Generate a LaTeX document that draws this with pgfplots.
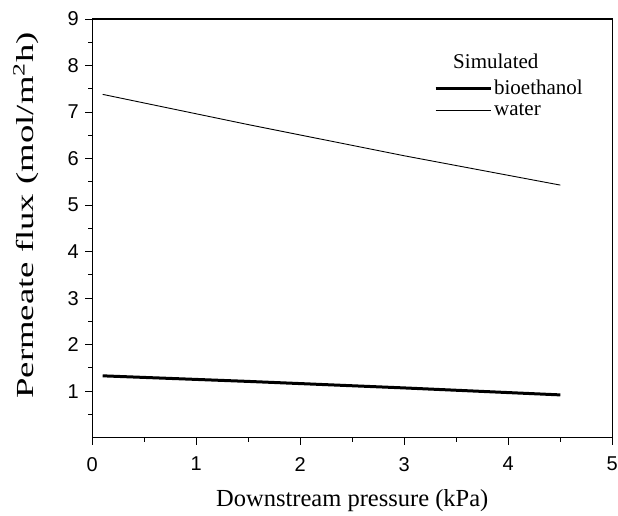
\documentclass[border=0pt]{standalone}
\usepackage{pgfplots}
\pgfplotsset{compat=1.18}
\usepackage{graphicx}
\usepackage{fontspec}
\setmainfont{Liberation Serif}
\newfontfamily\arialf{Liberation Sans}
\begin{document}
\begin{tikzpicture}
\begin{axis}[
 scale only axis, width=520pt, height=418.7pt,
 xmin=0,xmax=5,ymin=0,ymax=9,
 xtick={0,...,5}, ytick={1,...,9},
 minor xtick={0.5,1.5,2.5,3.5,4.5},
 minor ytick={0.5,1.5,...,8.5},
 xtick pos=bottom, ytick pos=left, tick align=outside,
 major tick length=7pt, minor tick length=4pt,
 every tick/.style={black, line width=1pt},
 axis line style={line width=1.5pt},
 tick label style={font=\arialf\fontsize{20}{20}\selectfont},
 yticklabel style={xshift=-3pt},
 xticklabel style={yshift=-9pt},
 /pgf/number format/assume math mode=true,
 xlabel={Downstream pressure (kPa)},
 xlabel style={font=\fontsize{24.5}{24.5}\selectfont, at={(axis description cs:0.5,-0.164)}, anchor=base},
 ylabel={\scalebox{1.5}[1]{Permeate flux (mol/m\textsuperscript{2}h)}},
 ylabel style={font=\fontsize{24.5}{24.5}\selectfont, at={(axis description cs:-0.1275,0.531)}, anchor=center},
 legend style={draw=none, fill=none, at={(axis cs:3.285,7.29)}, anchor=west,
   font=\fontsize{21}{21}\selectfont, inner sep=0pt, row sep=3.5pt, cells={anchor=west}},
 legend image code/.code={\draw[#1] (0pt,0pt) -- (55pt,0pt);},
]
\addplot[black, line width=3pt] coordinates {(0.1,1.33) (1.5,1.21) (3,1.07) (4.5,0.92)};
\addlegendentry{bioethanol}
\addplot[black, line width=0.9pt] coordinates {(0.1,7.38) (1.5,6.73) (3,6.06) (4.5,5.43)};
\addlegendentry{water}
\node[anchor=base, font=\fontsize{21}{21}\selectfont] at (axis cs:3.88,7.94) {Simulated};
\coordinate (o) at (rel axis cs:0,0);
\end{axis}
\pgfresetboundingbox
\path[use as bounding box] (o) ++(-92.3pt,-77.3pt) rectangle ++(618pt,515pt);
\end{tikzpicture}
\end{document}
